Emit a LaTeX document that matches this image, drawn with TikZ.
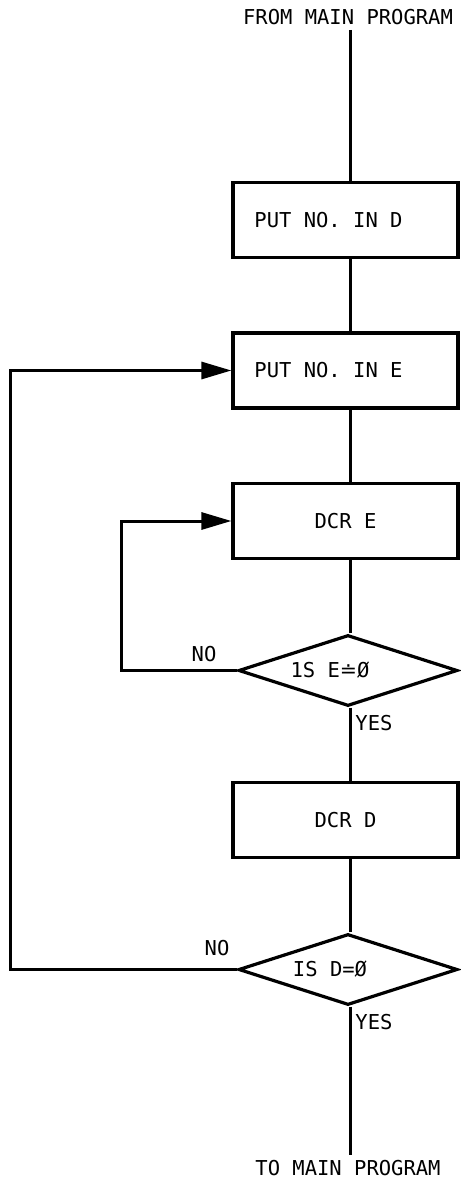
\documentclass[tikz,border=0pt]{standalone}
\usepackage{fontspec}
\setmainfont{DejaVu Sans Mono}
\newfontfamily\dvs{DejaVu Sans}
\usetikzlibrary{shapes.geometric,arrows.meta}
\begin{document}
\begin{tikzpicture}[x=1pt,y=-1pt,
  every node/.style={font=\fontsize{20.5}{24}\selectfont},
  line/.style={line width=3pt},
  procbox/.style={draw,line width=3.2pt,minimum width=225pt,minimum height=75pt,inner sep=0pt},
  decision/.style={draw,shape=diamond,line width=3.2pt,minimum width=219pt,minimum height=71pt,inner sep=0pt,aspect=3},
  arr/.style={line,-{Triangle[length=30pt,width=17pt]}},
  lbl/.style={inner sep=0pt}]
\useasboundingbox (0,0) rectangle (460,1182);
\node[lbl] (from) at (348,17) {FROM MAIN PROGRAM};
\coordinate (top) at (350,30);
\node[procbox] (b1) at (345.5,220) {PUT NO. IN D\hspace*{34pt}};
\node[procbox] (b2) at (345.5,370.5) {PUT NO. IN E\hspace*{34pt}};
\node[procbox] (b3) at (345.5,521) {DCR E};
\node[decision] (d1) at (348,670.5) {1S E{\dvs ≐}Ø\hspace*{36pt}};
\node[procbox] (b4) at (345.5,820) {DCR D};
\node[decision] (d2) at (348,969.5) {IS D=Ø\hspace*{36pt}};
\coordinate (bot) at (350,1155);
\node[lbl] (to) at (348,1168) {TO MAIN PROGRAM};
\node[lbl] (no1) at (204,654) {NO};
\node[lbl] (yes1) at (374,723) {YES};
\node[lbl] (no2) at (217,948) {NO};
\node[lbl] (yes2) at (374,1022) {YES};
\draw[line] (top) -- (b1.north -| top);
\draw[line] (b1.south -| top) -- (b2.north -| top);
\draw[line] (b2.south -| top) -- (b3.north -| top);
\draw[line] (b3.south -| top) -- (d1.north -| top);
\draw[line] (d1.south -| top) -- (b4.north -| top);
\draw[line] (b4.south -| top) -- (d2.north -| top);
\draw[line] (d2.south -| top) -- (bot);
\draw[arr] (d1.west) -- ++(-115,0) |- (b3.west);
\draw[arr] (d2.west) -- ++(-226,0) |- (b2.west);
\end{tikzpicture}
\end{document}
